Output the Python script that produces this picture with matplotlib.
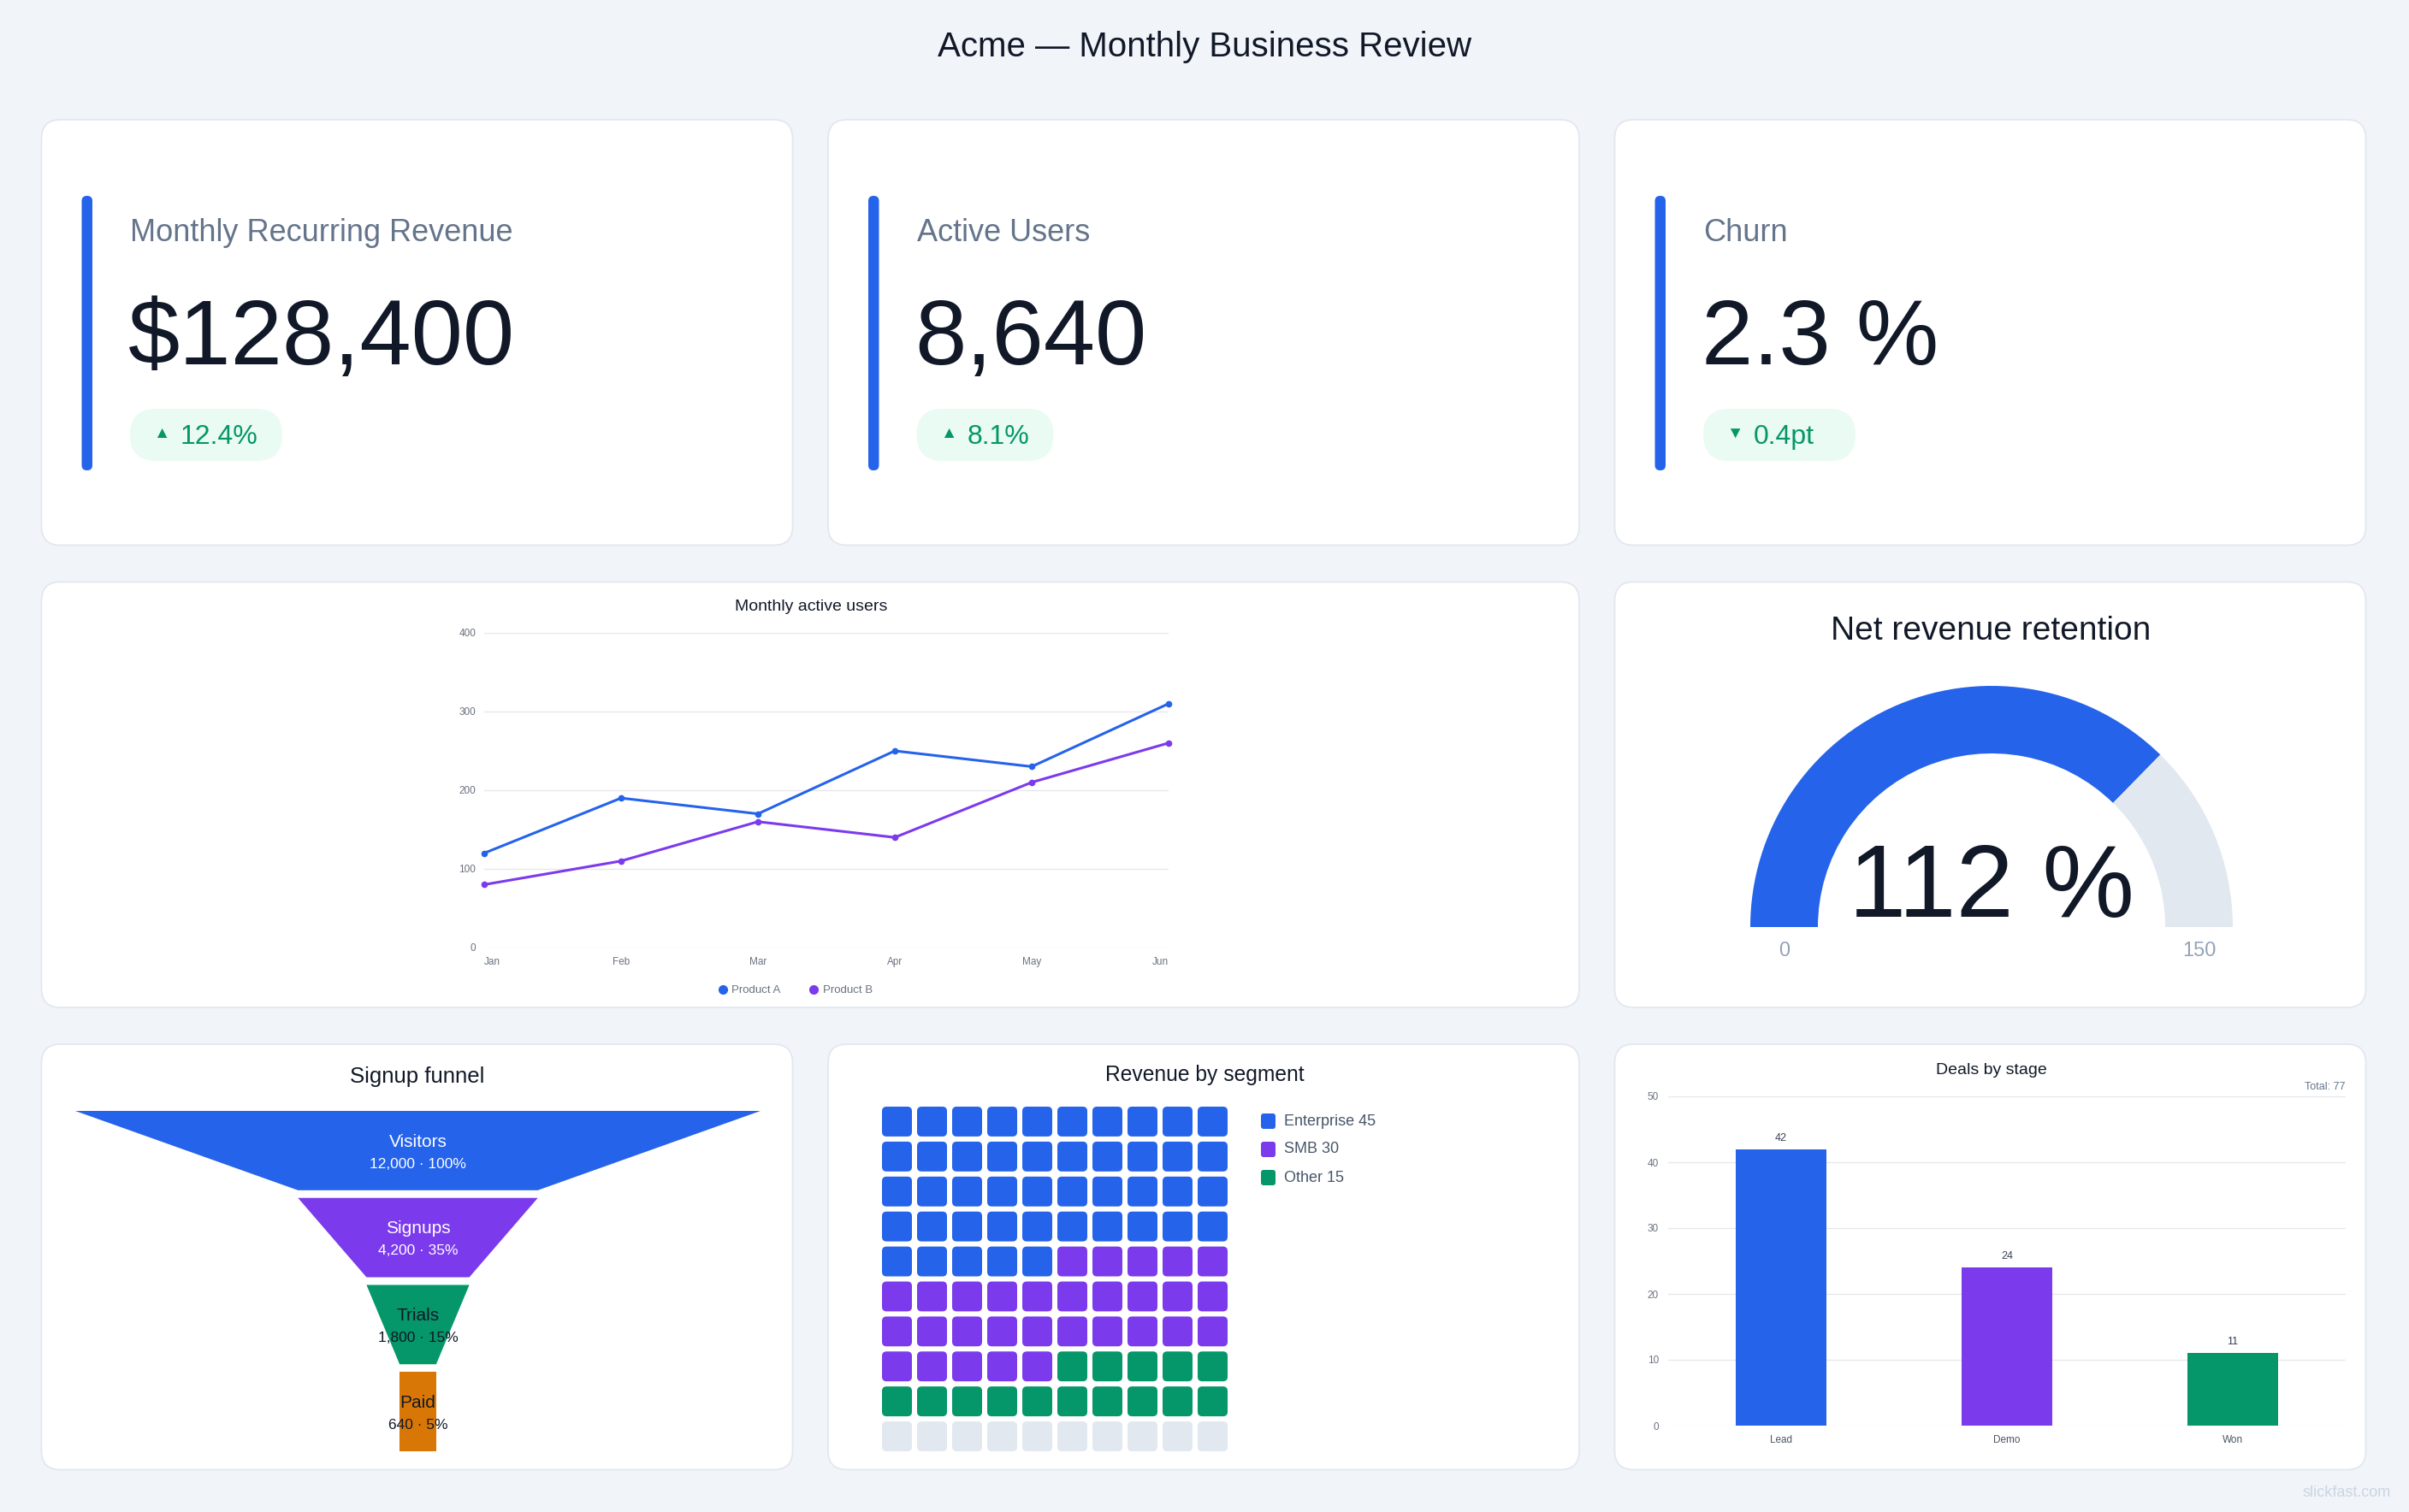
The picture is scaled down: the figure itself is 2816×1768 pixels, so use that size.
import matplotlib.pyplot as plt
import numpy as np
from matplotlib.patches import FancyBboxPatch, Wedge, Polygon
from matplotlib.lines import Line2D

plt.rcParams['font.family'] = ['Liberation Sans', 'DejaVu Sans']

# ---- data ----
kpi_labels = ['Monthly Recurring Revenue', 'Active Users', 'Churn']
kpi_values = ['$128,400', '8,640', '2.3 %']
kpi_deltas = ['12.4%', '8.1%', '0.4pt']
kpi_up = [True, True, False]

months = ['Jan', 'Feb', 'Mar', 'Apr', 'May', 'Jun']
product_a = [120, 190, 170, 250, 230, 310]
product_b = [80, 110, 160, 140, 210, 260]

nrr_value = 112
nrr_max = 150

funnel_stages = ['Visitors', 'Signups', 'Trials', 'Paid']
funnel_counts = [12000, 4200, 1800, 640]

segments = ['Enterprise', 'SMB', 'Other']
segment_units = [45, 30, 15]

deal_stages = ['Lead', 'Demo', 'Won']
deal_counts = [42, 24, 11]

# ---- style ----
W, H = 2816, 1768
BG = '#f1f4f9'
INK = '#111827'
MUTED = '#64748b'
TICK = '#6b7280'
GRID = '#e5e7eb'
BORDER = '#e2e8f0'
BLUE, PURPLE, GREEN, ORANGE = '#2563eb', '#7c3aed', '#059669', '#d97706'
TRACK = '#e2e8f0'

fig = plt.figure(figsize=(W / 100, H / 100), dpi=100, facecolor=BG)
bg = fig.add_axes([0, 0, 1, 1])
bg.set_xlim(0, W)
bg.set_ylim(H, 0)
bg.axis('off')


def px_axes(x0, y0, x1, y1):
    a = fig.add_axes([x0 / W, 1 - y1 / H, (x1 - x0) / W, (y1 - y0) / H])
    a.set_facecolor('none')
    return a


def card(x0, y0, x1, y1):
    bg.add_patch(FancyBboxPatch((x0, y0), x1 - x0, y1 - y0,
                                boxstyle='round,pad=0,rounding_size=22',
                                fc='white', ec=BORDER, lw=1.3))


cols = [(48.5, 926.5), (968, 1846), (1887.5, 2765.5)]
rows = [(140, 637.5), (680.5, 1178), (1221, 1718.5)]

bg.text(1408, 55.5, 'Acme \u2014 Monthly Business Review', ha='center', va='center',
        fontsize=29, color=INK)

# ---- KPI cards ----
badge_w = [178, 160, 178]
for i in range(3):
    x0, x1 = cols[i]
    y0, y1 = rows[0]
    card(x0, y0, x1, y1)
    bg.add_patch(FancyBboxPatch((x0 + 47, 229), 12.5, 321,
                                boxstyle='round,pad=0,rounding_size=6',
                                fc=BLUE, ec='none'))
    lx = x0 + 103.5
    bg.text(lx, 281.5, kpi_labels[i], ha='left', va='baseline', fontsize=26, color=MUTED)
    bg.text(lx - 2, 426, kpi_values[i], ha='left', va='baseline', fontsize=78, color=INK)
    bg.add_patch(FancyBboxPatch((lx, 478), badge_w[i], 61,
                                boxstyle='round,pad=0,rounding_size=30.5',
                                fc='#e9fbf2', ec='none'))
    arrow = '\u25B2' if kpi_up[i] else '\u25BC'
    bg.text(lx + 37, 508, arrow, ha='center', va='center', fontsize=14, color=GREEN)
    bg.text(lx + 59, 519, kpi_deltas[i], ha='left', va='baseline', fontsize=23, color=GREEN)

# ---- line chart ----
card(cols[0][0], rows[1][0], cols[1][1], rows[1][1])
bg.text(948, 710, 'Monthly active users', ha='center', va='center', fontsize=14, color=INK)
ax = px_axes(566, 740, 1366, 1108)
x = np.arange(len(months))
ax.plot(x, product_a, color=BLUE, lw=2.2, marker='o', ms=4.5, clip_on=False, zorder=3)
ax.plot(x, product_b, color=PURPLE, lw=2.2, marker='o', ms=4.5, clip_on=False, zorder=3)
ax.set_xlim(0, len(months) - 1)
ax.set_ylim(0, 400)
ax.set_yticks([0, 100, 200, 300, 400])
ax.set_xticks(x)
ax.set_xticklabels(months)
xl = ax.get_xticklabels()
xl[0].set_ha('left')
xl[-1].set_ha('right')
ax.grid(axis='y', color=GRID, lw=0.9)
ax.set_axisbelow(True)
for s in ax.spines.values():
    s.set_visible(False)
ax.tick_params(axis='both', length=0, labelsize=8.5, labelcolor=TICK)
ax.tick_params(axis='y', pad=7)
ax.tick_params(axis='x', pad=8)
handles = [Line2D([], [], ls='none', marker='o', ms=7, color=BLUE),
           Line2D([], [], ls='none', marker='o', ms=7, color=PURPLE)]
ax.legend(handles, ['Product A', 'Product B'], loc='center', bbox_to_anchor=(0.455, -0.136),
          ncol=2, frameon=False, fontsize=9.5, labelcolor=TICK, handlelength=0.7,
          handletextpad=0.45, columnspacing=2.6)

# ---- gauge ----
card(cols[2][0], rows[1][0], cols[2][1], rows[1][1])
bg.text(2327, 738, 'Net revenue retention', ha='center', va='center', fontsize=28, color=INK)
gx = px_axes(1990, 780, 2666, 1150)
gx.set_xlim(1990 - 2328, 2666 - 2328)
gx.set_ylim(1084 - 1150, 1084 - 780)
gx.axis('off')
split = 180 * (1 - nrr_value / nrr_max)
gx.add_patch(Wedge((0, 0), 282, split, 180, width=79, fc=BLUE, ec='none'))
gx.add_patch(Wedge((0, 0), 282, 0, split, width=79, fc=TRACK, ec='none'))
gx.text(0, 12, f'{nrr_value} %', ha='center', va='baseline', fontsize=87, color=INK)
gx.text(-242.5, -28, '0', ha='center', va='center', fontsize=17, color='#94a3b8')
gx.text(242.5, -28, str(nrr_max), ha='center', va='center', fontsize=17, color='#94a3b8')

# ---- funnel ----
card(cols[0][0], rows[2][0], cols[0][1], rows[2][1])
bg.text(488, 1259, 'Signup funnel', ha='center', va='center', fontsize=18.5, color=INK)
fx = px_axes(88, 1299, 889, 1697)
top = funnel_counts[0]
fx.set_xlim(-top / 2, top / 2)
step_h = 93 / 102
fx.set_ylim(len(funnel_counts) - 1 + step_h, 0)
fx.axis('off')
funnel_colors = [BLUE, PURPLE, GREEN, ORANGE]
text_colors = ['white', 'white', INK, INK]
for i, (name, cnt) in enumerate(zip(funnel_stages, funnel_counts)):
    nxt = funnel_counts[i + 1] if i + 1 < len(funnel_counts) else cnt
    yt, yb = i, i + step_h
    fx.add_patch(Polygon([(-cnt / 2, yt), (cnt / 2, yt), (nxt / 2, yb), (-nxt / 2, yb)],
                         closed=True, fc=funnel_colors[i], ec='none'))
    mid = i + step_h / 2
    pct = round(cnt / top * 100)
    fx.text(0, mid - 0.1, name, ha='center', va='center', fontsize=15, color=text_colors[i])
    fx.text(0, mid + 0.155, f'{cnt:,} \u00b7 {pct}%', ha='center', va='center',
            fontsize=12.5, color=text_colors[i])

# ---- waffle ----
card(cols[1][0], rows[2][0], cols[1][1], rows[2][1])
bg.text(1408.6, 1257, 'Revenue by segment', ha='center', va='center', fontsize=17.7, color=INK)
wx = px_axes(1031, 1294, 1435, 1697)
gap = 6 / 41
wx.set_xlim(0, 10 - gap)
wx.set_ylim(10 - gap, 0)
wx.axis('off')
seg_colors = [BLUE, PURPLE, GREEN]
cells = []
for c, n in zip(seg_colors, segment_units):
    cells += [c] * n
cells += [TRACK] * (100 - len(cells))
for k, c in enumerate(cells):
    r, col = divmod(k, 10)
    wx.add_patch(FancyBboxPatch((col, r), 1 - gap, 1 - gap,
                                boxstyle='round,pad=0,rounding_size=0.13',
                                fc=c, ec='none'))
for j, (seg, n) in enumerate(zip(segments, segment_units)):
    yc = 1311 + j * 33
    bg.add_patch(FancyBboxPatch((1474, yc - 9), 17, 18,
                                boxstyle='round,pad=0,rounding_size=3',
                                fc=seg_colors[j], ec='none'))
    bg.text(1501, yc, f'{seg} {n}', ha='left', va='center', fontsize=13, color='#475569')

# ---- bar chart ----
card(cols[2][0], rows[2][0], cols[2][1], rows[2][1])
bg.text(2328, 1252, 'Deals by stage', ha='center', va='center', fontsize=14, color=INK)
bx = px_axes(1950, 1282, 2742, 1667)
bars = bx.bar(np.arange(len(deal_stages)), deal_counts, width=0.4,
              color=[BLUE, PURPLE, GREEN], zorder=2)
bx.bar_label(bars, padding=5, fontsize=9, color='#374151')
bx.set_xlim(-0.5, len(deal_stages) - 0.5)
bx.set_ylim(0, 50)
bx.set_yticks(range(0, 51, 10))
bx.set_xticks(np.arange(len(deal_stages)))
bx.set_xticklabels(deal_stages)
bx.grid(axis='y', color=GRID, lw=0.9)
bx.set_axisbelow(True)
for s in bx.spines.values():
    s.set_visible(False)
bx.tick_params(axis='both', length=0, labelsize=8.5, labelcolor='#4b5563')
bx.tick_params(axis='y', pad=8, labelcolor=TICK)
bx.tick_params(axis='x', pad=8)
bx.text(1.0, 1.012, f'Total: {sum(deal_counts)}', transform=bx.transAxes,
        ha='right', va='bottom', fontsize=9, color=MUTED)

bg.text(2795, 1750, 'slickfast.com', ha='right', va='baseline', fontsize=13, color='#cbd5e1')

fig.savefig('out.png', dpi=100, facecolor=BG)
